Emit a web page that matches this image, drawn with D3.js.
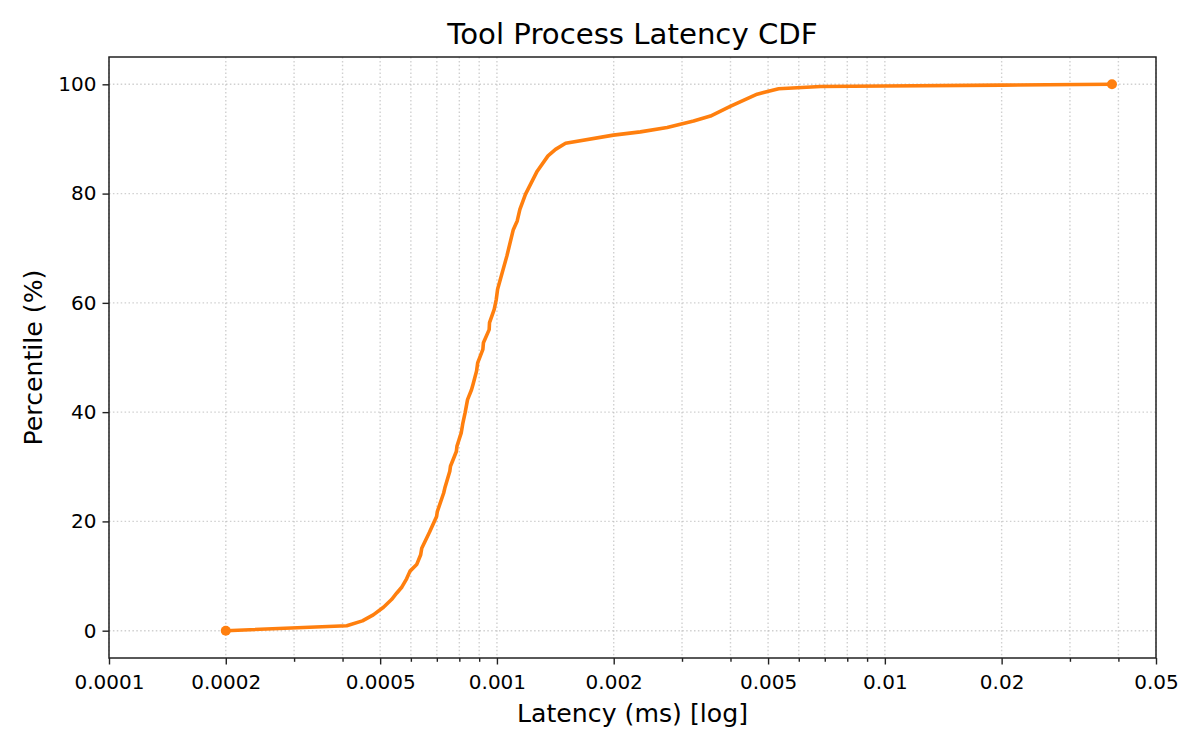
<!DOCTYPE html>
<html>
<head>
<meta charset="utf-8">
<script src="https://cdn.jsdelivr.net/npm/d3@7"></script>
<style>
  body { margin: 0; background: #fff; }
  svg text { font-family: "DejaVu Sans", sans-serif; fill: #000; }
</style>
</head>
<body>
<svg></svg>
<script>
// latency values (ms) and the percentile reached at each one
const latencyMs = [0.0002, 0.00041, 0.00045, 0.00048, 0.00051, 0.000535, 0.000552, 0.000569, 0.000585,
  0.000597, 0.000621, 0.000636, 0.00064, 0.00067, 0.000699, 0.000702, 0.000729, 0.000734, 0.000756,
  0.000759, 0.000786, 0.000789, 0.000809, 0.000817, 0.000828, 0.00084, 0.00086, 0.000868, 0.000886,
  0.000892, 0.00092, 0.000923, 0.000955, 0.000957, 0.000984, 0.000996, 0.001004, 0.001061, 0.001102,
  0.001128, 0.001146, 0.001185, 0.00127, 0.001354, 0.001416, 0.001503, 0.001996, 0.002343, 0.002747,
  0.003213, 0.003552, 0.004006, 0.004686, 0.005324, 0.00683, 0.01, 0.02, 0.0385]
const percentile = [0, 0.9, 1.8, 2.9, 4.3, 5.7, 6.9, 8.0, 9.5,
  10.9, 12.1, 13.9, 15.1, 18.0, 20.9, 21.8, 25.2, 26.1, 29.2,
  30.1, 32.8, 33.8, 36.2, 38.0, 39.9, 42.3, 44.1, 45.1, 47.5,
  49.0, 51.5, 52.7, 55.1, 56.4, 58.8, 60.6, 62.5, 68.6, 73.4,
  75.0, 77.1, 79.9, 84.1, 86.9, 88.1, 89.2, 90.7, 91.3, 92.1,
  93.3, 94.2, 96.0, 98.2, 99.2, 99.6, 99.7, 99.85, 100]

const xTickValues = [0.0001, 0.0002, 0.0005, 0.001, 0.002, 0.005, 0.01, 0.02, 0.05]
const xTickLabels = ["0.0001", "0.0002", "0.0005", "0.001", "0.002", "0.005", "0.01", "0.02", "0.05"]
const yTickValues = [0, 20, 40, 60, 80, 100]

let width = 1200
let height = 750
let plotLeft = 109, plotRight = 1156, plotTop = 57, plotBottom = 658

let svg = d3.select("svg").attr("width", width).attr("height", height)

let xScale = d3.scaleLog().domain([0.0001, 0.05]).range([plotLeft, plotRight])
let yScale = d3.scaleLinear().domain([-5, 105]).range([plotBottom, plotTop])

// minor ticks: every integer multiple within each decade
let minorTicks = []
for (let e = -4; e <= -2; e++) {
    for (let m = 1; m <= 9; m++) {
        let v = m * Math.pow(10, e)
        if (v >= 0.0001 && v <= 0.05 + 1e-12) minorTicks.push(+v.toPrecision(3))
    }
}
let minorOnly = minorTicks.filter(v => !xTickValues.some(t => Math.abs(t - v) / t < 1e-6))

// grid
let grid = svg.append("g")
grid.selectAll("line.vx")
    .data(minorTicks)
    .enter()
    .append("line")
    .attr("x1", d => xScale(d)).attr("x2", d => xScale(d))
    .attr("y1", plotTop).attr("y2", plotBottom)
grid.selectAll("line.hy")
    .data(yTickValues)
    .enter()
    .append("line")
    .attr("x1", plotLeft).attr("x2", plotRight)
    .attr("y1", d => yScale(d)).attr("y2", d => yScale(d))
grid.selectAll("line")
    .attr("stroke", "#b0b0b0")
    .attr("stroke-opacity", 0.6)
    .attr("stroke-width", 1.4)
    .attr("stroke-dasharray", "1.5,2.4")

// the CDF line
let points = latencyMs.map((d, i) => [d, percentile[i]])
let line = d3.line().x(d => xScale(d[0])).y(d => yScale(d[1]))

svg.append("path")
    .datum(points)
    .attr("fill", "none")
    .attr("stroke", "#ff7f0e")
    .attr("stroke-width", 3.6)
    .attr("stroke-linejoin", "round")
    .attr("d", line)

svg.selectAll("circle.end")
    .data([points[0], points[points.length - 1]])
    .enter()
    .append("circle")
    .attr("cx", d => xScale(d[0]))
    .attr("cy", d => yScale(d[1]))
    .attr("r", 5)
    .attr("fill", "#ff7f0e")

// axes
let xAxis = d3.axisBottom(xScale)
    .tickValues(xTickValues)
    .tickFormat((d, i) => xTickLabels[i])
    .tickSize(6.5)
    .tickPadding(10)
let xMinor = d3.axisBottom(xScale)
    .tickValues(minorOnly)
    .tickFormat("")
    .tickSize(3.8)
let yAxis = d3.axisLeft(yScale)
    .tickValues(yTickValues)
    .tickSize(6.5)
    .tickPadding(6)

let gx = svg.append("g").attr("transform", "translate(0," + plotBottom + ")").call(xAxis)
let gxm = svg.append("g").attr("transform", "translate(0," + plotBottom + ")").call(xMinor)
let gy = svg.append("g").attr("transform", "translate(" + plotLeft + ",0)").call(yAxis)

;[gx, gxm, gy].forEach(g => {
    g.select(".domain").remove()
    g.selectAll(".tick line").attr("stroke", "#222").attr("stroke-width", 1.4)
    g.selectAll(".tick text").style("font-size", "20px").style("font-family", "DejaVu Sans")
})

// frame
svg.append("rect")
    .attr("x", plotLeft).attr("y", plotTop)
    .attr("width", plotRight - plotLeft).attr("height", plotBottom - plotTop)
    .attr("fill", "none")
    .attr("stroke", "#222")
    .attr("stroke-width", 1.5)

// titles
svg.append("text")
    .attr("x", (plotLeft + plotRight) / 2).attr("y", 44)
    .attr("text-anchor", "middle")
    .style("font-size", "29.2px")
    .text("Tool Process Latency CDF")

svg.append("text")
    .attr("x", (plotLeft + plotRight) / 2).attr("y", 722)
    .attr("text-anchor", "middle")
    .style("font-size", "25.2px")
    .text("Latency (ms) [log]")

svg.append("text")
    .attr("transform", "translate(42," + ((plotTop + plotBottom) / 2) + ") rotate(-90)")
    .attr("text-anchor", "middle")
    .style("font-size", "25.2px")
    .text("Percentile (%)")
</script>
</body>
</html>
